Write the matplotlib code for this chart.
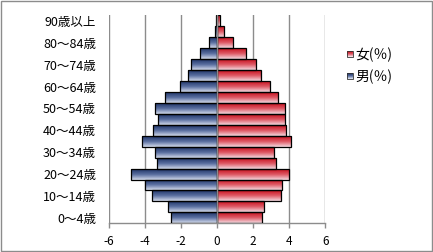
import numpy as np
import matplotlib
matplotlib.use("Agg")
import matplotlib.pyplot as plt
from matplotlib.patches import Rectangle
from matplotlib.colors import LinearSegmentedColormap
from matplotlib.legend_handler import HandlerBase

plt.rcParams['font.family'] = ['Noto Sans CJK JP', 'DejaVu Sans']

age_groups = ["0〜4歳", "5〜9歳", "10〜14歳", "15〜19歳", "20〜24歳", "25〜29歳",
              "30〜34歳", "35〜39歳", "40〜44歳", "45〜49歳", "50〜54歳", "55〜59歳",
              "60〜64歳", "65〜69歳", "70〜74歳", "75〜79歳", "80〜84歳", "85〜89歳",
              "90歳以上"]
male_pct = [2.57, 2.69, 3.58, 3.97, 4.76, 3.30, 3.41, 4.13, 3.52, 3.29,
            3.41, 2.85, 2.02, 1.63, 1.46, 0.96, 0.45, 0.12, 0.05]
female_pct = [2.48, 2.60, 3.53, 3.60, 4.00, 3.27, 3.15, 4.10, 3.82, 3.77,
              3.77, 3.40, 2.93, 2.43, 2.15, 1.60, 0.87, 0.37, 0.15]
x_ticks = [-6, -4, -2, 0, 2, 4, 6]
series_labels = ["女(％)", "男(％)"]

male_cmap = LinearSegmentedColormap.from_list("male", ["#1f3468", "#5a6fa0", "#d4dbec"])
female_cmap = LinearSegmentedColormap.from_list("female", ["#c8101e", "#de5a66", "#f4dbe1"])

fig = plt.figure(figsize=(4.33, 2.52), dpi=100)
fig.patch.set_facecolor("white")
fig.patches.append(Rectangle((0.002, 0.004), 0.996, 0.992, transform=fig.transFigure,
                             fill=False, edgecolor="#8c8c8c", linewidth=1.0))

ax = fig.add_axes([0.2506, 0.1139, 0.5011, 0.8246])
y = np.arange(len(age_groups))

grad = np.linspace(0, 1, 64).reshape(-1, 1)


def gradient_bars(bars, cmap):
    # fill each bar with a vertical gradient clipped to the bar outline
    for patch in bars:
        x0, y0 = patch.get_x(), patch.get_y()
        w, h = patch.get_width(), patch.get_height()
        im = ax.imshow(grad, cmap=cmap, aspect="auto", origin="upper",
                       extent=(x0, x0 + w, y0, y0 + h), zorder=2,
                       interpolation="bilinear")
        im.set_clip_path(patch)
        patch.set_facecolor("none")


male_bars = ax.barh(y, -np.array(male_pct), height=1.0, edgecolor="black",
                    linewidth=0.9, zorder=3)
female_bars = ax.barh(y, female_pct, height=1.0, edgecolor="black",
                      linewidth=0.9, zorder=3)
gradient_bars(male_bars, male_cmap)
gradient_bars(female_bars, female_cmap)

ax.set_xlim(-6, 6)
ax.set_ylim(-0.5, len(age_groups) - 0.5)
ax.set_xticks(x_ticks)
ax.set_xticklabels([str(t) for t in x_ticks], fontsize=8.5)
ax.set_yticks(y[::2])
ax.set_yticklabels(age_groups[::2], fontsize=9)

for t in x_ticks:
    ax.axvline(t, color="#8c8c8c", linewidth=1.0, zorder=1 if t != 0 else 4)

for side in ["top", "right", "left"]:
    ax.spines[side].set_visible(False)
ax.spines["bottom"].set_color("#8c8c8c")
ax.spines["bottom"].set_linewidth(1.0)
ax.tick_params(axis="x", direction="out", length=3.5, width=1.0, color="#8c8c8c", pad=5)
ax.tick_params(axis="y", length=0, pad=9)


class GradientHandler(HandlerBase):
    def __init__(self, cmap):
        super().__init__()
        self.cmap = cmap

    def create_artists(self, legend, orig_handle, xdescent, ydescent, width,
                       height, fontsize, trans):
        size = min(width, height)
        x0 = -xdescent + (width - size) / 2
        y0 = -ydescent + (height - size) / 2
        n = 6
        artists = []
        for i in range(n):
            c = self.cmap(i / (n - 1))
            artists.append(Rectangle((x0, y0 + size - (i + 1) * size / n), size, size / n,
                                     facecolor=c, edgecolor="none", transform=trans))
        artists.append(Rectangle((x0, y0), size, size, facecolor="none",
                                 edgecolor="#333333", linewidth=0.6, transform=trans))
        return artists


h_f = Rectangle((0, 0), 1, 1)
h_m = Rectangle((0, 0), 1, 1)
fig.legend([h_f, h_m], series_labels, loc="center left",
           bbox_to_anchor=(0.7885, 0.740), frameon=False, fontsize=10,
           borderaxespad=0, handlelength=0.45, handleheight=0.45,
           handletextpad=0.15, labelspacing=0.55,
           handler_map={h_f: GradientHandler(female_cmap), h_m: GradientHandler(male_cmap)})

fig.savefig("out.png", dpi=100, facecolor="white")
